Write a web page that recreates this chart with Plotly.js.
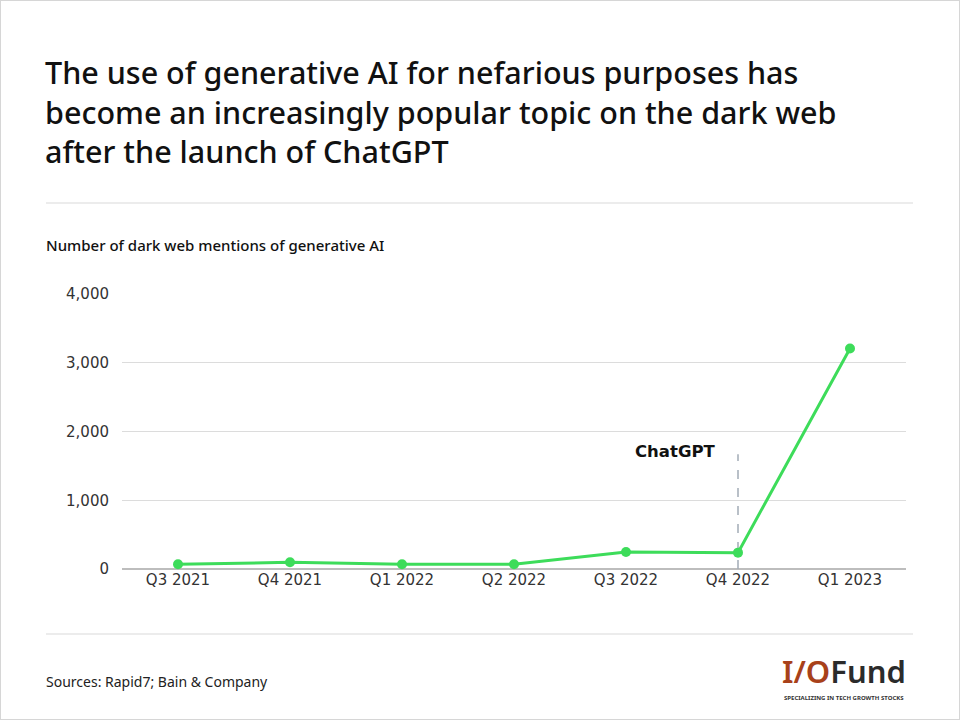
<!DOCTYPE html>
<html><head><meta charset="utf-8">
<script src="https://cdn.plot.ly/plotly-3.0.1.min.js"></script>
<style>html,body{margin:0;padding:0;background:#fff}#c{width:960px;height:720px}</style>
</head><body><div id="c"></div>
<script>
var quarters = ["Q3 2021","Q4 2021","Q1 2022","Q2 2022","Q3 2022","Q4 2022","Q1 2023"];
var mentions = [68, 97, 68, 68, 247, 238, 3207];
var yTicks = [0, 1000, 2000, 3000, 4000];
var yTickText = ["0", "1,000", "2,000", "3,000", "4,000"];
var eventQuarter = "Q4 2022";
var eventLabel = "ChatGPT";
var eventTop = 1670;

var F = "'Noto Sans', sans-serif";
var FT = "'DejaVu Sans', sans-serif";
var trace = {
  x: quarters, y: mentions, type: "scatter", mode: "lines+markers",
  line: {color: "#3ddc5a", width: 3},
  marker: {color: "#3ddc5a", size: 10},
  cliponaxis: false, hoverinfo: "skip"
};
var eventTrace = {
  x: [eventQuarter, eventQuarter], y: [0, eventTop], type: "scatter", mode: "lines",
  line: {color: "#a3acb7", width: 1.5, dash: "dash"}, hoverinfo: "skip"
};
function px(x){ return (x-122)/784; }
function py(y){ return (569-y)/275; }
var layout = {
  width: 960, height: 720,
  margin: {l: 122, r: 54, t: 294, b: 151},
  paper_bgcolor: "#fff", plot_bgcolor: "#fff",
  showlegend: false,
  font: {family: F, color: "#333"},
  xaxis: {type: "category", categoryorder: "array", categoryarray: quarters, range: [-0.5, 6.5],
    showgrid: false, zeroline: false, showline: false, ticks: "",
    tickfont: {size: 15, color: "#333", family: FT}, fixedrange: true},
  yaxis: {range: [0, 4000], tickvals: yTicks, ticktext: yTickText,
    showgrid: true, gridcolor: "#dcdcdc", gridwidth: 1, zeroline: true, zerolinecolor: "#bdbdbd", zerolinewidth: 2,
    ticks: "", ticklabelstandoff: 12, tickfont: {size: 15, color: "#333", family: FT}, fixedrange: true},
  shapes: [
    {type: "line", xref: "paper", yref: "paper", x0: px(46), x1: px(913), y0: py(203), y1: py(203), line: {color: "#e6e6e6", width: 1.5}},
    {type: "line", xref: "paper", yref: "paper", x0: px(46), x1: px(913), y0: py(634), y1: py(634), line: {color: "#e6e6e6", width: 1.5}}
  ],
  annotations: [
    {xref: "paper", yref: "paper", x: px(43), y: py(49), xanchor: "left", yanchor: "top", align: "left",
     text: "The use of generative AI for nefarious purposes has<br>become an increasingly popular topic on the dark web<br>after the launch of ChatGPT",
     showarrow: false, font: {size: 30.5, color: "#111", family: F, weight: 500}},
    {xref: "paper", yref: "paper", x: px(44), y: py(233), xanchor: "left", yanchor: "top",
     text: "Number of dark web mentions of generative AI", showarrow: false,
     font: {size: 15, color: "#111", family: F, weight: 500}},
    {xref: "x", yref: "y", x: eventQuarter, y: eventTop, xanchor: "right", xshift: -20, yanchor: "middle", yshift: 3,
     text: "<b>" + eventLabel + "</b>", showarrow: false, font: {size: 16.5, color: "#111", family: FT}},
    {xref: "paper", yref: "paper", x: px(44), y: py(681), xanchor: "left", yanchor: "middle",
     text: "Sources: Rapid7; Bain & Company", showarrow: false, font: {size: 14, color: "#222", family: F}},
    {xref: "paper", yref: "paper", x: px(908), y: py(671), xanchor: "right", yanchor: "middle",
     text: "<span style='color:#a8411a'>I/O</span>Fund",
     showarrow: false, font: {size: 31, color: "#2b2b2b", family: F, weight: 600}},
    {xref: "paper", yref: "paper", x: px(906), y: py(698), xanchor: "right", yanchor: "middle",
     text: "<b>SPECIALIZING IN TECH GROWTH STOCKS</b>",
     showarrow: false, font: {size: 6, color: "#333", family: F}}
  ]
};
Plotly.newPlot("c", [eventTrace, trace], layout, {displayModeBar: false, staticPlot: true});
</script>
<div style="position:absolute;left:0;top:0;width:958px;height:718px;border:1px solid #d6d6d6;pointer-events:none"></div>
</body></html>
